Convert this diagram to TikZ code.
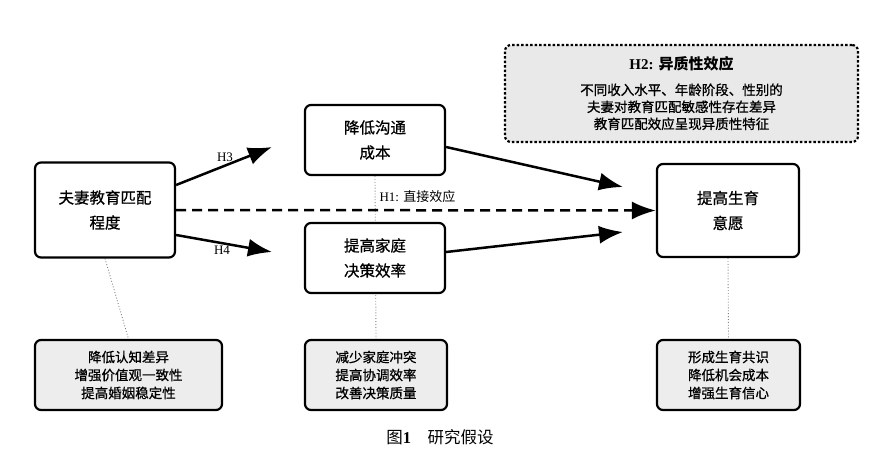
\documentclass[tikz,border=0pt]{standalone}
\usepackage{fontspec}
\setmainfont{Liberation Serif}
\newfontfamily\cjk{Noto Sans CJK SC}
\newfontfamily\cjkheavy[FakeBold=0.8]{Noto Sans CJK SC}
\usetikzlibrary{positioning, arrows.meta, backgrounds}

\begin{document}
\begin{tikzpicture}[x=1pt, y=-1pt,
    box/.style={draw, line width=2.2pt, rounded corners=6pt, fill=white, align=center, inner sep=0pt, font=\fontsize{15.5}{25}\selectfont\cjkheavy},
    note/.style={box, fill=gray!14, minimum height=70pt, font=\fontsize{13.5}{18}\selectfont\cjkheavy},
    arr/.style={line width=2.5pt, -{Latex[length=24pt,width=18pt]}},
    link/.style={gray, line width=0.9pt, dotted},
    tag/.style={font=\fontsize{13}{15}\selectfont}]
    \useasboundingbox (0,0) rectangle (880,458);
    % main boxes
    \node[box, minimum width=140pt, minimum height=95pt] (match) at (105,210) {夫妻教育匹配\\程度};
    \node[box, minimum width=140pt, minimum height=70pt] (costs) at (375,140) {降低沟通\\成本};
    \node[box, minimum width=140pt, minimum height=70pt] (decide) at (375,258) {提高家庭\\决策效率};
    \node[box, minimum width=142pt, minimum height=93pt] (intent) at (728,210.5) {提高生育\\意愿};
    \node[box, fill=gray!17, dash pattern=on 2.5pt off 2pt, minimum width=353pt, minimum height=97pt, font=\fontsize{13.5}{17}\selectfont\cjkheavy] (hetero) at (681.5,93.5)
        {{\fontsize{15}{17}\selectfont\bfseries\rmfamily H2: \cjk 异质性效应}\\[8pt]不同收入水平、年龄阶段、性别的\\夫妻对教育匹配敏感性存在差异\\教育匹配效应呈现异质性特征};
    % notes under the boxes
    \node[note, minimum width=187pt] (b1) at (128.5,375) {降低认知差异\\增强价值观一致性\\提高婚姻稳定性};
    \node[note, minimum width=142pt] (b2) at (376,375) {减少家庭冲突\\提高协调效率\\改善决策质量};
    \node[note, minimum width=143pt] (b3) at (728.5,375) {形成生育共识\\降低机会成本\\增强生育信心};
    \begin{scope}[on background layer]
        \draw[link] (match.south) -- (b1.north);
        \draw[link] (costs.south) -- (b2.north);
        \draw[link] (intent.south) -- (b3.north);
    \end{scope}
    % arrow ends
    \coordinate (h3end) at (272,147);
    \coordinate (h4end) at (272,252);
    \coordinate (costend) at (623,187);
    \coordinate (decend) at (623,232);
    \draw[arr] ([yshift=25pt]match.east) -- (h3end);
    \draw[arr] ([yshift=-25pt]match.east) -- (h4end);
    \draw[arr] ([yshift=-7pt]costs.east) -- (costend);
    \draw[arr] ([yshift=6pt]decide.east) -- (decend);
    \draw[arr, dash pattern=on 10pt off 6pt] (match.east) -- (intent.west);
    \node[tag] (h3) at (225,157) {H3};
    \node[tag] (h4) at (222,250) {H4};
    \node[tag, anchor=west] (h1) at (376,197) {H1: {\cjk 直接效应}};
    \node[font=\fontsize{16.5}{18}\selectfont] (cap) at (440,437) {{\cjk 图}\textbf{1}\quad{\cjk 研究假设}};
\end{tikzpicture}
\end{document}
